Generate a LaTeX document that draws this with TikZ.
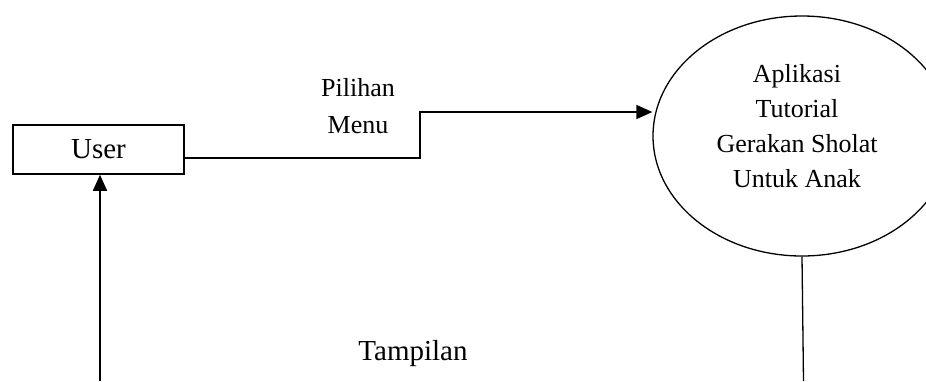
\documentclass[tikz,border=0pt]{standalone}
\usepackage{fontspec}
\setmainfont{Liberation Serif}
\usetikzlibrary{arrows.meta,positioning,shapes.geometric}

\tikzset{
  garis/.style={line width=1.5pt, -{Triangle[length=16pt,width=14pt]}},
  entitas/.style={draw, line width=1.5pt, rectangle, minimum width=171pt, minimum height=49pt, inner sep=0pt},
  proses/.style={draw, line width=1.3pt, ellipse, minimum width=298pt, minimum height=240pt, inner sep=0pt}
}

\begin{document}
\begin{tikzpicture}[x=1pt,y=-1pt]
    % Batas gambar
    \useasboundingbox (0,0) rectangle (926,381);
    \clip (0,0) rectangle (926,381);

    % Entitas luar - User
    \node[entitas, font=\fontsize{29}{34}\selectfont] (user) at (98.5,149.5) {User};

    % Proses - Aplikasi
    \node[proses] (app) at (802,136) {};
    \node[align=center, font=\fontsize{26}{35}\selectfont] (apptext) at (797,126)
      {Aplikasi\\Tutorial\\Gerakan Sholat\\Untuk Anak};

    % Alur data: Pilihan Menu
    \coordinate (keluar) at (184,158);
    \coordinate (belok) at (420,112);
    \draw[garis] (keluar) -- (keluar -| belok) -- (belok) -- (belok -| app.west);
    \node[align=center, font=\fontsize{26}{37}\selectfont] (pilihan) at (358,106) {Pilihan\\Menu};

    % Alur data: Tampilan
    \coordinate (bawahkiri) at (100,381);
    \coordinate (bawahkanan) at (803.5,381);
    \draw[line width=1.3pt] (app.south) -- (bawahkanan);
    \draw[garis] (bawahkiri) -- (bawahkiri |- user.south);
    \node[font=\fontsize{29}{34}\selectfont] (tampilan) at (413,354) {Tampilan};
\end{tikzpicture}
\end{document}
